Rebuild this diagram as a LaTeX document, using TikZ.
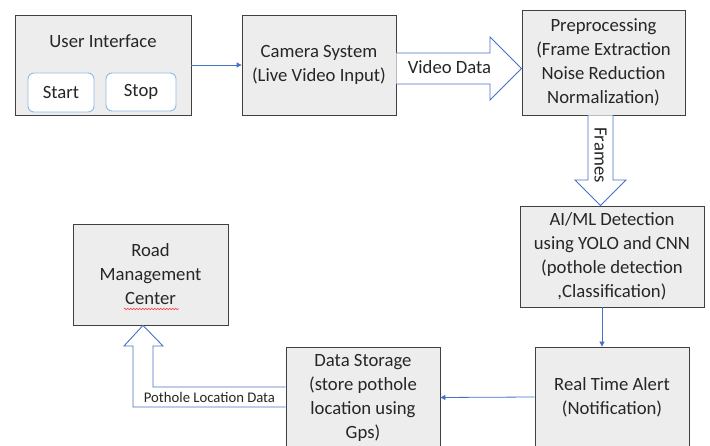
\documentclass[tikz,border=0pt]{standalone}
\usepackage{fontspec}
\setmainfont{Carlito}
\usetikzlibrary{arrows.meta,calc,decorations.pathmorphing}
\definecolor{boxfill}{HTML}{EDEDED}
\definecolor{boxline}{HTML}{404040}
\definecolor{arrowblue}{HTML}{4472C4}
\definecolor{btnblue}{HTML}{8FBCE6}
\definecolor{txt}{HTML}{262626}
\tikzset{
  box/.style={draw=boxline, fill=boxfill, line width=0.8pt, inner sep=0pt, align=center,
    text=txt, font=\fontsize{18.7}{24}\selectfont},
  btn/.style={draw=btnblue, fill=white, line width=0.9pt, rounded corners=6pt, inner sep=0pt,
    text=txt, font=\fontsize{18.7}{24}\selectfont},
  lbl/.style={text=txt, inner sep=0pt, font=\fontsize{18.7}{24}\selectfont},
  thinarrow/.style={draw=arrowblue, line width=0.8pt, -{Triangle[length=5pt,width=5pt]}},
  blockarrow/.style={draw=arrowblue, fill=white, line width=0.9pt, line join=miter},
}
\begin{document}
\begin{tikzpicture}[x=1pt,y=-1pt]
\useasboundingbox (0,0) rectangle (710,446);
\clip (0,0) rectangle (710,446);
\fill[white] (0,0) rectangle (710,446);

% User interface
\node[box, minimum width=176pt, minimum height=100pt] (ui) at (103,65) {};
\node[lbl] (uititle) at (103,41) {User Interface};
\node[btn, minimum width=66pt, minimum height=39pt] (start) at (61,92.5) {Start};
\node[btn, minimum width=70pt, minimum height=38pt] (stop) at (141,92) {Stop};

% Camera
\node[box, minimum width=154pt, minimum height=100pt] (cam) at (319,65) {Camera System\\(Live Video Input)};

% Preprocessing
\node[box, minimum width=163pt, minimum height=105pt] (pre) at (603.5,62.5) {Preprocessing\\(Frame Extraction\\Noise Reduction\\Normalization)};

% AI/ML
\node[box, minimum width=184pt, minimum height=101pt] (ai) at (612,256.5) {AI/ML Detection\\using YOLO and CNN\\(pothole detection\\,Classification)};

% Real time alert
\node[box, minimum width=154pt, minimum height=100pt] (rt) at (612,397) {Real Time Alert\\(Notification)};

% Data storage
\node[box, minimum width=154pt, minimum height=100pt] (ds) at (363,397.5) {Data Storage\\(store pothole\\location using\\Gps)};

% Road management
\node[box, minimum width=155pt, minimum height=101pt] (rmc) at (150.5,274.5) {Road\\Management\\Center};
\draw[red!80!white, line width=0.5pt, decorate, decoration={zigzag, segment length=3pt, amplitude=0.8pt}]
  (124,309) -- (179,309);

% thin arrows
\draw[thinarrow] (ui.east) -- (cam.west);
\draw[thinarrow] ($(ai.south)+(-10,0)$) -- ($(rt.north)+(-10,0)$);
\draw[thinarrow] (rt.west) -- (ds.east);

% Video Data block arrow
\draw[blockarrow] (cam.east |- 0,53) -- (490,53) -- (490,37) -- (pre.west |- 0,68.5)
  -- (490,100) -- (490,84) -- (cam.east |- 0,84);
\node[lbl] (vd) at (449.5,67) {Video Data};

% Frames block arrow
\draw[blockarrow] (pre.south -| 588,0) -- (588,180) -- (575,180) -- (ai.north -| 600.5,0)
  -- (626,180) -- (613,180) -- (pre.south -| 613,0);
\node[lbl, rotate=-90] (fr) at (600.5,155) {Frames};

% Pothole location block arrow
\draw[blockarrow] (ds.west |- 0,407) -- (133,407) -- (133,346) -- (124,346) -- (rmc.south -| 143,0)
  -- (163,346) -- (153,346) -- (153,387) -- (ds.west |- 0,387);
\node[lbl, font=\fontsize{14.7}{18}\selectfont] (pld) at (209.5,397) {Pothole Location Data};
\end{tikzpicture}
\end{document}
